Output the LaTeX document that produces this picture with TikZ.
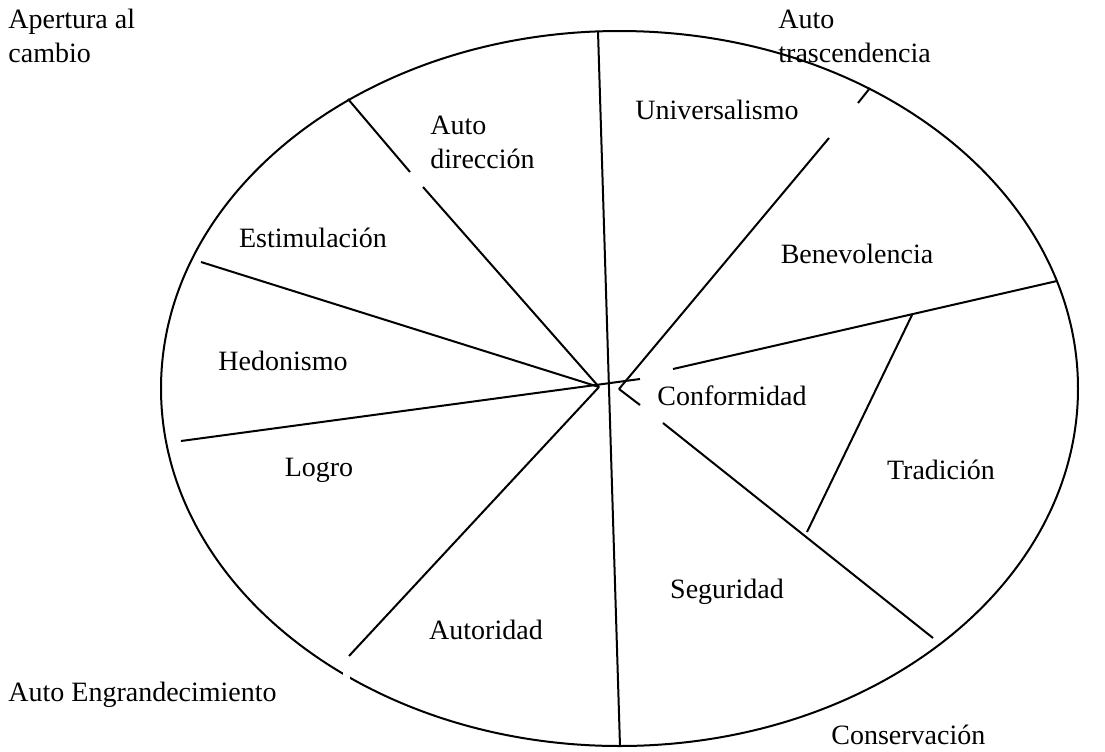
\documentclass[tikz,border=0pt]{standalone}
\usepackage{fontspec}
\setmainfont{Liberation Serif}
\usetikzlibrary{positioning}

\begin{document}
\begin{tikzpicture}[
    x=0.5pt, y=-0.5pt,
    divider/.style={
        line width=1pt
    },
    region/.style={
        inner sep=0pt,
        align=left,
        font=\fontsize{14}{17}\selectfont
    },
    pole/.style={
        region,
        anchor=west
    }
]

\useasboundingbox (0,0) rectangle (1105,751);

% outer ring, with its small break at the lower left
\draw[divider] (619.5,388.5) ellipse [x radius=458.5, y radius=357.5];
\fill[white] (343,667) rectangle (350,681);

% ends of the dividers
\coordinate (topend) at (598,31);
\coordinate (botend) at (620,746);
\coordinate (hub) at (599,387);
\coordinate (hubr) at (619,389);
\coordinate (dirout) at (348,99);
\coordinate (estout) at (201,262);
\coordinate (logout) at (181,441);
\coordinate (login) at (640,379);
\coordinate (autout) at (349,656);
\coordinate (uniout) at (870,88);
\coordinate (benin) at (673,369);
\coordinate (benout) at (1057,281);
\coordinate (segout) at (933,638);
\coordinate (tradtop) at (912,315);
\coordinate (tradbot) at (807,532);

\draw[divider] (topend) -- (botend);
\draw[divider] (dirout) -- (410,172);
\draw[divider] (423,187) -- (hub);
\draw[divider] (estout) -- (hub);
\draw[divider] (logout) -- (login);
\draw[divider] (autout) -- (hub);
\draw[divider] (hubr) -- (829,138);
\draw[divider] (858,103) -- (uniout);
\draw[divider] (benin) -- (benout);
\draw[divider] (hubr) -- (640,405);
\draw[divider] (663,423) -- (segout);
\draw[divider] (tradtop) -- (tradbot);

% values
\node[region] (universalismo) at (717,110) {Universalismo};
\node[pole] (autodir) at (430,142) {Auto\\dirección};
\node[region] (estimulacion) at (313,238) {Estimulación};
\node[region] (benevolencia) at (857,254) {Benevolencia};
\node[region] (hedonismo) at (283,361) {Hedonismo};
\node[region] (conformidad) at (732,396) {Conformidad};
\node[region] (logro) at (319,470) {Logro};
\node[region] (tradicion) at (941,470) {Tradición};
\node[region] (seguridad) at (727,592) {Seguridad};
\node[region] (autoridad) at (486,630) {Autoridad};

% higher order dimensions
\node[pole] (apertura) at (8,36) {Apertura al\\cambio};
\node[pole] (trasc) at (778,36) {Auto\\trascendencia};
\node[pole] (engrand) at (8,695) {Auto Engrandecimiento};
\node[pole] (conserv) at (831,735) {Conservación};

\end{tikzpicture}
\end{document}
